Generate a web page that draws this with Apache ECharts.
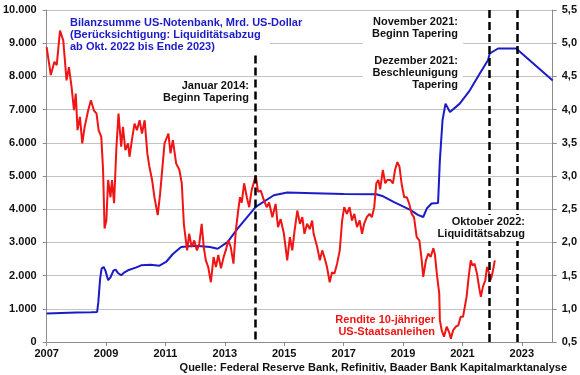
<!DOCTYPE html>
<html>
<head>
<meta charset="utf-8">
<script src="https://cdn.jsdelivr.net/npm/echarts@6/dist/echarts.min.js"></script>
<style>
  html, body { margin: 0; padding: 0; background: #fff; }
  #chart { width: 580px; height: 375px; }
</style>
</head>
<body>
<div id="chart"></div>
<script>
// Bilanzsumme Fed (Mrd. USD), Zeitpunkt als Dezimaljahr
const fedDates = [
  2007.00, 2007.50, 2008.00, 2008.50, 2008.70, 2008.74, 2008.80, 2008.85, 2008.92, 2008.98,
  2009.07, 2009.15, 2009.25, 2009.32, 2009.40, 2009.51, 2009.62, 2009.74, 2010.00, 2010.18,
  2010.50, 2010.80, 2011.02, 2011.25, 2011.53, 2012.00, 2012.50, 2012.76, 2013.09, 2013.43,
  2014.04, 2014.65, 2015.10, 2016.00, 2017.00, 2018.10, 2018.30, 2018.68, 2018.84, 2019.24,
  2019.50, 2019.68, 2019.80, 2019.96, 2020.18, 2020.24, 2020.33, 2020.43, 2020.58, 2020.91,
  2021.25, 2021.58, 2021.86, 2021.92, 2022.20, 2022.81, 2024.04
];
const fedValues = [
  860, 875, 885, 895, 905, 1200, 1900, 2210, 2260, 2150,
  1860, 1950, 2150, 2180, 2080, 2010, 2100, 2160, 2240, 2310,
  2330, 2300, 2410, 2650, 2860, 2900, 2860, 2810, 3010, 3415,
  4070, 4420, 4500, 4480, 4460, 4450, 4400, 4220, 4150, 3980,
  3830, 3765, 4020, 4170, 4190, 5470, 6680, 7180, 6930, 7180,
  7580, 8080, 8485, 8690, 8840, 8840, 7880
];

// Rendite 10-jähriger US-Staatsanleihen (%)
const yieldDates = [
  2007.00, 2007.14, 2007.26, 2007.34, 2007.45, 2007.56, 2007.67, 2007.75, 2007.84, 2007.92,
  2007.98, 2008.04, 2008.12, 2008.20, 2008.28, 2008.40, 2008.49, 2008.59, 2008.68, 2008.75,
  2008.84, 2008.90, 2008.95, 2009.01, 2009.07, 2009.15, 2009.20, 2009.27, 2009.35, 2009.42,
  2009.51, 2009.57, 2009.65, 2009.74, 2009.79, 2009.87, 2009.96, 2010.04, 2010.13, 2010.21,
  2010.30, 2010.39, 2010.46, 2010.55, 2010.63, 2010.74, 2010.82, 2010.91, 2010.97, 2011.10,
  2011.17, 2011.25, 2011.36, 2011.47, 2011.55, 2011.62, 2011.66, 2011.73, 2011.80, 2011.88,
  2011.97, 2012.06, 2012.14, 2012.22, 2012.29, 2012.36, 2012.44, 2012.53, 2012.62, 2012.70,
  2012.78, 2012.87, 2012.96, 2013.03, 2013.12, 2013.20, 2013.29, 2013.37, 2013.45, 2013.51,
  2013.57, 2013.65, 2013.74, 2013.82, 2013.90, 2013.98, 2014.04, 2014.12, 2014.21, 2014.32,
  2014.41, 2014.49, 2014.60, 2014.71, 2014.79, 2014.88, 2014.99, 2015.10, 2015.19, 2015.27,
  2015.35, 2015.44, 2015.53, 2015.61, 2015.68, 2015.77, 2015.86, 2015.94, 2015.99, 2016.11,
  2016.20, 2016.28, 2016.35, 2016.44, 2016.53, 2016.61, 2016.69, 2016.78, 2016.87, 2016.95,
  2017.02, 2017.11, 2017.20, 2017.28, 2017.36, 2017.45, 2017.54, 2017.62, 2017.69, 2017.78,
  2017.87, 2017.95, 2018.03, 2018.10, 2018.17, 2018.23, 2018.32, 2018.40, 2018.47, 2018.57,
  2018.66, 2018.73, 2018.81, 2018.88, 2018.96, 2019.04, 2019.13, 2019.21, 2019.29, 2019.37,
  2019.46, 2019.55, 2019.63, 2019.68, 2019.77, 2019.85, 2019.93, 2020.02, 2020.07, 2020.15,
  2020.22, 2020.24, 2020.30, 2020.38, 2020.47, 2020.55, 2020.61, 2020.69, 2020.78, 2020.86,
  2020.94, 2021.02, 2021.08, 2021.14, 2021.21, 2021.28, 2021.34, 2021.41, 2021.49, 2021.56,
  2021.62, 2021.69, 2021.77, 2021.83, 2021.89, 2021.94, 2021.98, 2022.03, 2022.09
];
const yieldValues = [
  4.94, 4.52, 4.72, 4.67, 5.19, 5.04, 4.44, 4.64, 4.34, 3.99,
  4.24, 3.69, 3.89, 3.49, 3.74, 3.99, 4.14, 3.99, 3.94, 3.69,
  3.59, 3.09, 2.21, 2.33, 2.94, 2.68, 2.94, 2.59, 3.44, 3.94,
  3.44, 3.74, 3.39, 3.49, 3.29, 3.54, 3.79, 3.69, 3.84, 3.64,
  3.84, 3.34, 3.14, 2.94, 2.68, 2.41, 2.73, 3.19, 3.49, 3.64,
  3.34, 3.54, 3.19, 3.09, 2.89, 2.28, 2.13, 1.88, 2.13, 1.93,
  2.03, 1.88, 1.98, 2.28, 1.93, 1.73, 1.63, 1.40, 1.78, 1.63,
  1.81, 1.61, 1.78, 1.88, 2.03, 1.93, 1.68, 2.18, 2.48, 2.68,
  2.60, 2.89, 2.68, 2.53, 2.78, 2.91, 3.01, 2.76, 2.78, 2.63,
  2.53, 2.60, 2.38, 2.58, 2.23, 2.35, 2.13, 1.73, 2.08, 1.88,
  2.18, 2.48, 2.28, 2.38, 2.13, 2.28, 2.20, 2.33, 2.13, 1.93,
  1.73, 1.88, 1.78, 1.63, 1.40, 1.55, 1.53, 1.68, 1.88, 2.33,
  2.53, 2.43, 2.53, 2.33, 2.43, 2.23, 2.33, 2.13, 2.28, 2.38,
  2.43, 2.38, 2.53, 2.89, 2.94, 2.80, 3.09, 2.89, 2.94, 2.94,
  2.89, 3.09, 3.21, 3.14, 2.86, 2.68, 2.68, 2.58, 2.43, 2.38,
  2.08, 2.03, 1.73, 1.48, 1.73, 1.83, 1.78, 1.91, 1.83, 1.48,
  1.23, 0.83, 0.68, 0.58, 0.73, 0.65, 0.55, 0.68, 0.73, 0.75,
  0.88, 0.88, 1.03, 1.18, 1.48, 1.73, 1.65, 1.68, 1.53, 1.33,
  1.18, 1.33, 1.43, 1.63, 1.55, 1.43, 1.48, 1.58, 1.73
];

// gestrichelte Markierungen
const taperStart2014 = 2014.04;
const taperStart2021 = 2021.92;
const qtStart2022 = 2022.83;

const font = '"Liberation Sans", Arial, sans-serif';
const txt = { fontFamily: font, fontWeight: 'bold', fontSize: 11 };

function deNum(v) {
  return String(v).replace(/\B(?=(\d{3})+(?!\d))/g, '.');
}

let myChart = echarts.init(document.getElementById('chart'));

let option = {
  animation: false,
  backgroundColor: '#fff',
  grid: { left: 45, right: 27, top: 10, bottom: 33, containLabel: false },
  xAxis: {
    type: 'value',
    min: 2007,
    max: 2024.04,
    interval: 2,
    axisLine: { lineStyle: { color: '#8c8c8c', width: 1 } },
    axisTick: { show: true, length: 4, lineStyle: { color: '#8c8c8c' } },
    axisLabel: {
      showMaxLabel: false,
      margin: 6,
      color: '#111',
      fontFamily: font, fontWeight: 'bold', fontSize: 11,
      formatter: function (v) { return Number.isInteger(v) ? String(v) : ''; }
    },
    splitLine: { show: false }
  },
  yAxis: [
    {
      type: 'value',
      min: 0, max: 10000, interval: 1000,
      axisLine: { show: true, lineStyle: { color: '#8c8c8c' } },
      axisTick: { show: true, length: 4, lineStyle: { color: '#8c8c8c' } },
      axisLabel: { margin: 10, color: '#111', fontFamily: font, fontWeight: 'bold', fontSize: 11, formatter: deNum },
      splitLine: { lineStyle: { color: '#c4c4c4', width: 1 } }
    },
    {
      type: 'value',
      min: 0.5, max: 5.5, interval: 0.5,
      position: 'right',
      axisLine: { show: true, lineStyle: { color: '#8c8c8c' } },
      axisTick: { show: true, length: 4, lineStyle: { color: '#8c8c8c' } },
      axisLabel: {
        margin: 9, color: '#111', fontFamily: font, fontWeight: 'bold', fontSize: 11,
        formatter: function (v) { return v.toFixed(1).replace('.', ','); }
      },
      splitLine: { show: false }
    }
  ],
  series: [
    {
      name: 'Bilanzsumme',
      type: 'line',
      yAxisIndex: 0,
      showSymbol: false,
      lineStyle: { color: '#1b1bc8', width: 2 },
      data: fedDates.map((d, i) => [d, fedValues[i]]),
      markLine: {
        silent: true,
        symbol: ['none', 'none'],
        label: { show: false },
        lineStyle: { color: '#000', width: 2.5, type: [8, 4] },
        data: [
          [{ coord: [taperStart2014, 8990] }, { coord: [taperStart2014, 0] }],
          [{ coord: [taperStart2021, 10000] }, { coord: [taperStart2021, 0] }],
          [{ coord: [qtStart2022, 10000] }, { coord: [qtStart2022, 0] }]
        ]
      }
    },
    {
      name: 'Rendite',
      type: 'line',
      yAxisIndex: 1,
      showSymbol: false,
      lineStyle: { color: '#f01414', width: 2 },
      data: yieldDates.map((d, i) => [d, yieldValues[i]])
    }
  ],
  graphic: [
    { type: 'rect', shape: { x: 68, y: 12, width: 202, height: 43 }, style: { fill: '#fff' }, z: 50 },
    { type: 'rect', shape: { x: 363, y: 13, width: 100, height: 80 }, style: { fill: '#fff' }, z: 50 },
    { type: 'rect', shape: { x: 434, y: 215, width: 93, height: 26 }, style: { fill: '#fff' }, z: 50 },
    {
      type: 'text', x: 70, y: 17, z: 60,
      style: Object.assign({
        text: 'Bilanzsumme US-Notenbank, Mrd. US-Dollar\n(Berücksichtigung: Liquiditätsabzug\nab Okt. 2022 bis Ende 2023)',
        fill: '#1b1bc8', lineHeight: 12, verticalAlign: 'top', align: 'left'
      }, txt)
    },
    {
      type: 'text', x: 249, y: 80, z: 60,
      style: Object.assign({ text: 'Januar 2014:\nBeginn Tapering', fill: '#111', lineHeight: 12, align: 'right', verticalAlign: 'top' }, txt)
    },
    {
      type: 'text', x: 458, y: 16, z: 60,
      style: Object.assign({ text: 'November 2021:\nBeginn Tapering', fill: '#111', lineHeight: 12, align: 'right', verticalAlign: 'top' }, txt)
    },
    {
      type: 'text', x: 458, y: 54.5, z: 60,
      style: Object.assign({ text: 'Dezember 2021:\nBeschleunigung\nTapering', fill: '#111', lineHeight: 12.3, align: 'right', verticalAlign: 'top' }, txt)
    },
    {
      type: 'text', x: 525, y: 216, z: 60,
      style: Object.assign({ text: 'Oktober 2022:\nLiquiditätsabzug', fill: '#111', lineHeight: 12, align: 'right', verticalAlign: 'top' }, txt)
    },
    {
      type: 'text', x: 435, y: 313.5, z: 60,
      style: Object.assign({ text: 'Rendite 10-jähriger\nUS-Staatsanleihen', fill: '#f01414', lineHeight: 12.5, align: 'right', verticalAlign: 'top' }, txt)
    },
    {
      type: 'text', x: 567, y: 367.5, z: 60,
      style: Object.assign({ text: 'Quelle: Federal Reserve Bank, Refinitiv, Baader Bank Kapitalmarktanalyse', fill: '#111', align: 'right', verticalAlign: 'middle' }, txt)
    }
  ]
};

myChart.setOption(option);
</script>
</body>
</html>
